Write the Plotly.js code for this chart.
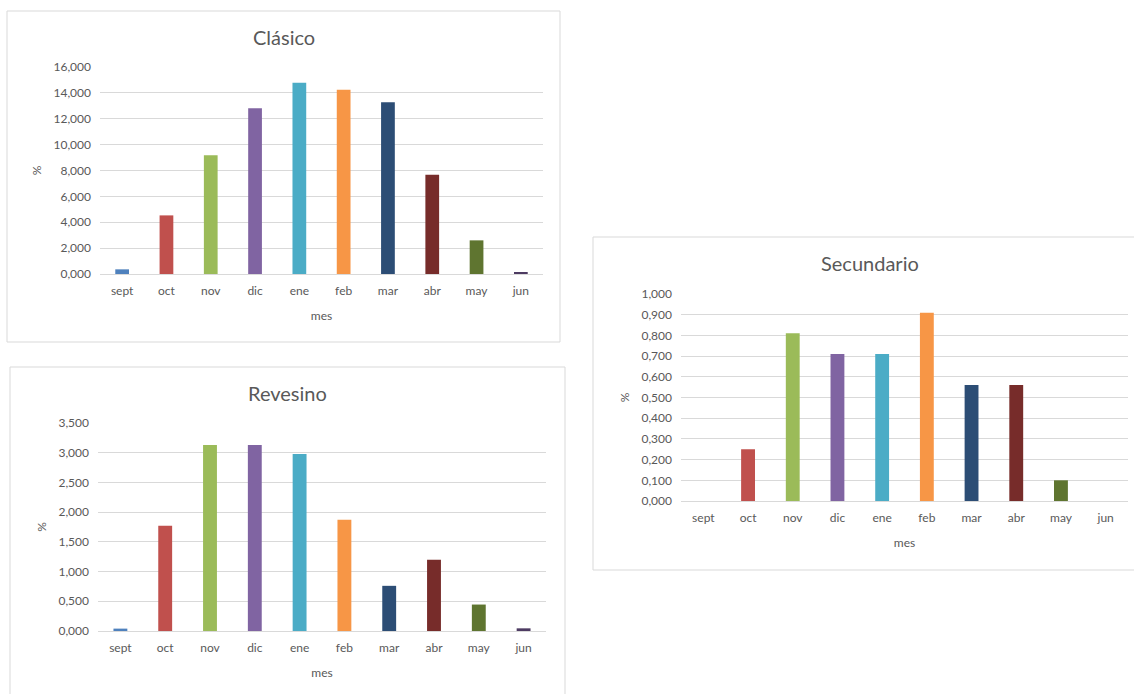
<!DOCTYPE html>
<html>
<head>
<meta charset="utf-8">
<script src="https://cdn.plot.ly/plotly-3.0.1.min.js"></script>
<style>html,body{margin:0;padding:0;background:#fff;}#chart{width:1134px;height:694px;}</style>
</head>
<body>
<div id="chart"></div>
<script>
const meses = ["sept", "oct", "nov", "dic", "ene", "feb", "mar", "abr", "may", "jun"];
const clasico = [0.36, 4.53, 9.18, 12.81, 14.79, 14.25, 13.27, 7.67, 2.60, 0.08];
const revesino = [0.04, 1.77, 3.13, 3.13, 2.98, 1.87, 0.76, 1.20, 0.445, 0.045];
const secundario = [0, 0.25, 0.81, 0.71, 0.71, 0.91, 0.56, 0.56, 0.10, 0];
const colores = ["#4F81BD", "#C0504D", "#9BBB59", "#8064A2", "#4BACC6", "#F79646", "#2C4D75", "#772C2A", "#5F7530", "#4D3B62"];
const titulos = ["Clásico", "Revesino", "Secundario"];

const W = 1134, H = 694;
const px = x => x / W;
const py = y => 1 - y / H;
const FONT = "Lato, 'Liberation Sans', sans-serif";
const GREY = "#595959";

const panels = [
  {box: [7, 11, 560, 342], plot: [100, 67, 543, 274], data: clasico, range: [0, 16], dtick: 2, title: titulos[0], tx: 284},
  {box: [10, 367, 565, 700], plot: [98, 423, 546, 631], data: revesino, range: [0, 3.5], dtick: 0.5, title: titulos[1], tx: 287},
  {box: [593, 237, 1140, 570], plot: [681, 294, 1128, 501], data: secundario, range: [0, 1], dtick: 0.1, title: titulos[2], tx: 870}
];

const traces = [];
const layout = {
  width: W, height: H,
  margin: {l: 0, r: 0, t: 0, b: 0},
  paper_bgcolor: "#fff", plot_bgcolor: "rgba(0,0,0,0)",
  showlegend: false,
  separators: ",.",
  bargap: 0.69,
  font: {family: FONT, size: 12, color: GREY},
  shapes: [], annotations: []
};

panels.forEach((p, i) => {
  const s = i === 0 ? "" : String(i + 1);
  traces.push({
    type: "bar", x: meses, y: p.data,
    marker: {color: colores},
    xaxis: "x" + s, yaxis: "y" + s,
    hoverinfo: "x+y"
  });
  layout["xaxis" + s] = {
    domain: [px(p.plot[0]), px(p.plot[2])],
    anchor: "y" + s,
    type: "category",
    showgrid: false, zeroline: false,
    showline: true, linecolor: "#D9D9D9", linewidth: 1,
    ticks: "", ticklabelstandoff: 6,
    tickfont: {family: FONT, size: 12, color: GREY},
    title: {text: "mes", font: {family: FONT, size: 12, color: GREY}, standoff: 14},
    fixedrange: true
  };
  layout["yaxis" + s] = {
    domain: [py(p.plot[3]), py(p.plot[1])],
    anchor: "x" + s,
    range: p.range, dtick: p.dtick, tick0: 0,
    tickformat: ".3f",
    showgrid: true, gridcolor: "#D9D9D9", gridwidth: 1,
    zeroline: false, showline: false,
    ticks: "", ticklabelstandoff: 8,
    tickfont: {family: FONT, size: 12, color: GREY},
    title: {text: "%", font: {family: FONT, size: 12, color: GREY}, standoff: 9},
    fixedrange: true
  };
  layout.shapes.push({
    type: "rect", xref: "paper", yref: "paper", layer: "below",
    x0: px(p.box[0]), x1: px(p.box[2]), y0: py(p.box[3]), y1: py(p.box[1]),
    line: {color: "#D9D9D9", width: 1}, fillcolor: "#fff"
  });
  layout.annotations.push({
    xref: "paper", yref: "paper", showarrow: false,
    x: px(p.tx), xanchor: "center",
    y: py(p.box[1] + 26), yanchor: "middle",
    text: p.title, font: {family: FONT, size: 20, color: GREY}
  });
});

Plotly.newPlot("chart", traces, layout, {displayModeBar: false});
</script>
</body>
</html>
